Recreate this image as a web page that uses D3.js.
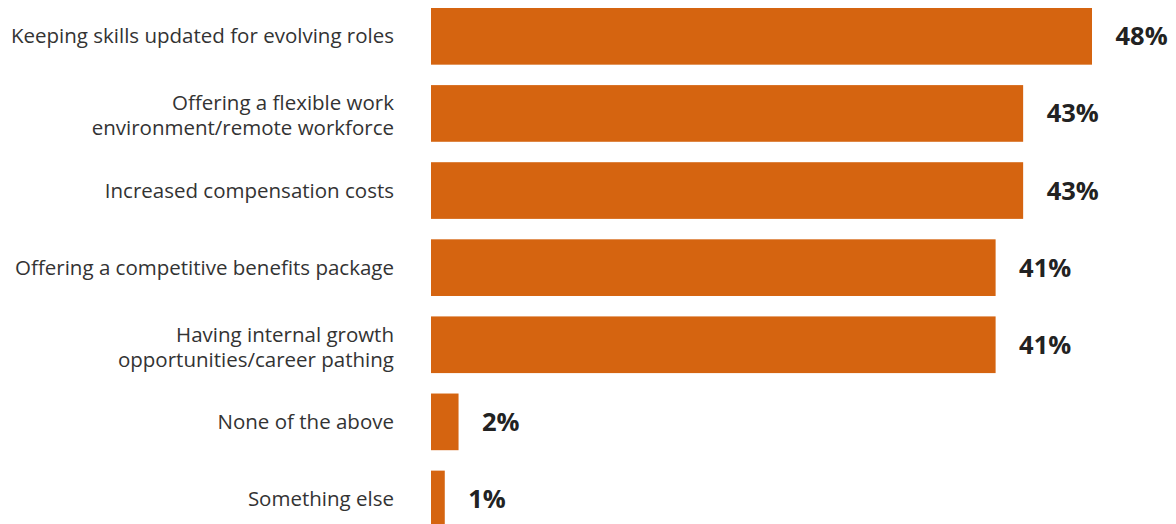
<!DOCTYPE html>
<html>
<head>
<meta charset="utf-8">
<script src="https://cdn.jsdelivr.net/npm/d3@7"></script>
<style>
  html, body { margin: 0; padding: 0; background: #ffffff; }
  svg { display: block; }
</style>
</head>
<body>
<svg id="chart" width="1176" height="524"></svg>
<script>
// Survey responses: share of respondents per challenge
const categories = [
  ["Keeping skills updated for evolving roles"],
  ["Offering a flexible work", "environment/remote workforce"],
  ["Increased compensation costs"],
  ["Offering a competitive benefits package"],
  ["Having internal growth", "opportunities/career pathing"],
  ["None of the above"],
  ["Something else"]
];
const values = [48, 43, 43, 41, 41, 2, 1];
const valueLabels = ["48%", "43%", "43%", "41%", "41%", "2%", "1%"];

const svg = d3.select("#chart");
const barColor = "#d56410";

const x = d3.scaleLinear().domain([0, 48]).range([431, 1092]);
const y = d3.scaleBand()
  .domain(d3.range(values.length))
  .range([8, 527.3])
  .paddingInner(0.265)
  .paddingOuter(0);

// bars
svg.append("g").selectAll("rect")
  .data(values)
  .join("rect")
  .attr("x", x(0))
  .attr("y", (d, i) => y(i))
  .attr("width", d => x(d) - x(0))
  .attr("height", y.bandwidth())
  .attr("fill", barColor);

// category labels, right-aligned against the bars
const lineH = 25;
svg.append("g").selectAll("text")
  .data(categories)
  .join("text")
  .attr("text-anchor", "end")
  .attr("font-family", "'Open Sans', sans-serif")
  .attr("font-size", 20.5)
  .attr("fill", "#333333")
  .each(function(lines, i) {
    const cy = y(i) + y.bandwidth() / 2;
    const y0 = lines.length === 1 ? cy + 7 : cy - 3;
    d3.select(this).selectAll("tspan")
      .data(lines)
      .join("tspan")
      .attr("x", 394)
      .attr("y", (l, j) => y0 + j * lineH)
      .text(l => l);
  });

// value labels at the bar ends
svg.append("g").selectAll("text")
  .data(values)
  .join("text")
  .attr("x", d => x(d) + 23.5)
  .attr("y", (d, i) => y(i) + y.bandwidth() / 2 + 9)
  .attr("font-family", "'Open Sans', sans-serif")
  .attr("font-weight", 700)
  .attr("font-size", 25.5)
  .attr("fill", "#222222")
  .text((d, i) => valueLabels[i]);
</script>
</body>
</html>
